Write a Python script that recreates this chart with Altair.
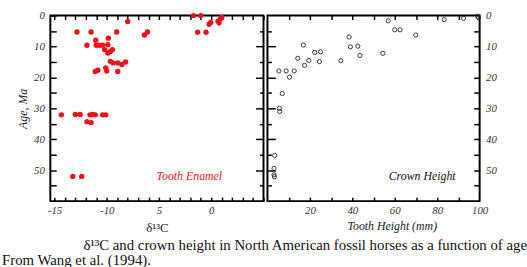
import altair as alt
import pandas as pd

# ---------------- data ----------------
enamel_d13c = [-1.7, -1.0, -1.3, -0.5, -0.2, -0.05, 0.65, 0.75, 0.9, 1.0,
               -6.4, -6.1, -8.0, -12.85, -11.5, -9.05,
               -11.9, -11.05, -11.0, -10.7, -10.4, -9.85, -9.9, -10.2, -9.9, -9.65,
               -9.45, -9.65, -9.4, -8.95, -8.55, -8.2, -11.1, -10.85, -10.1, -10.0, -8.95,
               -14.35, -13.0, -12.55, -11.9, -11.5, -11.6, -11.35, -11.1, -10.4, -10.1,
               -13.25, -12.4]
enamel_age = [0.0, 0.0, 5.4, 5.4, 2.8, 2.2, 1.8, 2.3, 0.9, 0.6,
              6.3, 5.3, 1.9, 5.3, 5.3, 5.3,
              9.6, 8.0, 9.6, 9.6, 9.6, 7.3, 9.4, 11.0, 12.1, 11.6,
              11.0, 14.8, 15.3, 15.3, 15.8, 15.0, 18.1, 17.7, 16.9, 17.9, 18.1,
              32.1, 32.0, 32.0, 34.3, 34.6, 32.1, 32.0, 32.1, 32.1, 32.1,
              52.0, 52.0]

crown_height = [5.4, 8.8, 12.6, 10.4, 7.0, 5.6, 5.8,
                14.3, 16.9, 17.5, 19.5, 22.3, 25.0, 24.5, 34.6, 38.5, 39.1, 42.6, 43.6,
                54.4, 56.9, 60.0, 62.5, 69.9, 83.3, 92.4, 99.1, 99.5,
                3.4, 3.1, 3.1, 3.3]
crown_age = [17.9, 17.9, 17.9, 19.9, 25.2, 30.0, 31.0,
             13.8, 9.5, 16.1, 14.5, 11.9, 11.7, 14.9, 14.6, 6.9, 10.1, 9.9, 12.9,
             12.2, 1.7, 4.6, 4.6, 6.3, 1.3, 0.9, 0.2, 0.7,
             45.2, 49.4, 51.5, 52.1]

d13c_ticks = [-15, -10, -5, 0]
height_ticks = [20, 40, 60, 80, 100]
age_ticks = [0, 10, 20, 30, 40, 50]
panel_labels = ["Tooth Enamel", "Crown Height"]
caption_lines = ["δ¹³C and crown height in North American fossil horses as a function of age",
                 "From Wang et al. (1994)."]

FONT = "Liberation Serif"
RED = "#e8141c"

enamel = pd.DataFrame({"d13c": enamel_d13c, "age": enamel_age})
crown = pd.DataFrame({"height": crown_height, "age": crown_age})
enamel_lab = pd.DataFrame({"d13c": [-2.1], "age": [51.8], "t": [panel_labels[0]]})
crown_lab = pd.DataFrame({"height": [72.9], "age": [51.8], "t": [panel_labels[1]]})

ys = alt.Scale(domain=[0, 60], reverse=True, nice=False, zero=False)
xs_l = alt.Scale(domain=[-15.4, 5], nice=False, zero=False)
xs_r = alt.Scale(domain=[0, 100], nice=False, zero=False)


def tick_axis(orient, values, size):
    return alt.Axis(orient=orient, values=values, labels=False, domain=False,
                    grid=False, ticks=True, tickSize=size, offset=-size,
                    title=None, tickColor="black", tickWidth=1.5)


lab_style = dict(labelFont=FONT, labelFontStyle="italic", labelFontSize=11,
                 labelColor="#333", grid=False, ticks=False, domain=False,
                 labelOverlap=False, labelBound=False, labelFlush=False)

# ---------------- left panel ----------------
L1 = alt.Chart(enamel).mark_circle(color=RED, size=30, opacity=1).encode(
    x=alt.X("d13c:Q", scale=xs_l,
            axis=alt.Axis(orient="bottom", values=d13c_ticks,
                          labelExpr="datum.value == -5 ? '5' : (datum.value < 0 ? '-' + abs(datum.value) : '' + datum.value)",
                          labelPadding=4, title="δ¹³C", titleFont=FONT,
                          titleFontSize=13, titleFontWeight="normal",
                          titlePadding=6, titleColor="#222", **lab_style)),
    y=alt.Y("age:Q", scale=ys,
            axis=alt.Axis(orient="left", values=age_ticks, labelPadding=6,
                          title="Age, Ma", titleFont=FONT, titleFontStyle="italic",
                          titleFontSize=12, titleFontWeight="normal",
                          titlePadding=4, titleColor="#222", **lab_style)),
)
L2 = alt.Chart(enamel).mark_point(opacity=0).encode(
    x=alt.X("d13c:Q", scale=xs_l, axis=tick_axis("bottom", list(range(-15, 6)), 4)),
    y=alt.Y("age:Q", scale=ys, axis=tick_axis("left", list(range(0, 60, 5)), 6)),
)
L3 = alt.Chart(enamel).mark_point(opacity=0).encode(
    x=alt.X("d13c:Q", scale=xs_l, axis=tick_axis("top", list(range(-15, 6)), 4)),
    y=alt.Y("age:Q", scale=ys, axis=tick_axis("right", [10, 20, 30, 40, 50], 8)),
)
L4 = alt.Chart(enamel).mark_point(opacity=0).encode(
    x=alt.X("d13c:Q", scale=xs_l, axis=None),
    y=alt.Y("age:Q", scale=ys, axis=tick_axis("right", [5, 15, 25, 35, 45, 55], 4)),
)
L5 = alt.Chart(enamel_lab).mark_text(font=FONT, fontStyle="italic", fontSize=12,
                                     color=RED).encode(
    x=alt.X("d13c:Q", scale=xs_l, axis=None),
    y=alt.Y("age:Q", scale=ys, axis=None),
    text="t:N",
)
left = alt.layer(L1, L2, L3, L4, L5).resolve_axis(
    x="independent", y="independent").properties(width=216, height=188)

# ---------------- right panel ----------------
R1 = alt.Chart(crown).mark_point(shape="circle", filled=False, size=18,
                                 color="#222", strokeWidth=0.9, opacity=1).encode(
    x=alt.X("height:Q", scale=xs_r,
            axis=alt.Axis(orient="bottom", values=height_ticks, labelPadding=4,
                          title="Tooth Height (mm)", titleFont=FONT,
                          titleFontStyle="italic", titleFontSize=12,
                          titleFontWeight="normal", titlePadding=5,
                          titleX=126, titleColor="#222", **lab_style)),
    y=alt.Y("age:Q", scale=ys,
            axis=alt.Axis(orient="right", values=age_ticks, labelPadding=6,
                          title=None, **lab_style)),
)
R2 = alt.Chart(crown).mark_point(opacity=0).encode(
    x=alt.X("height:Q", scale=xs_r, axis=tick_axis("bottom", list(range(10, 100, 10)), 4)),
    y=alt.Y("age:Q", scale=ys, axis=tick_axis("right", list(range(5, 60, 5)), 6)),
)
R3 = alt.Chart(crown).mark_point(opacity=0).encode(
    x=alt.X("height:Q", scale=xs_r, axis=tick_axis("top", list(range(10, 100, 10)), 4)),
    y=alt.Y("age:Q", scale=ys, axis=tick_axis("left", [10, 20, 30, 40, 50], 8)),
)
R4 = alt.Chart(crown).mark_point(opacity=0).encode(
    x=alt.X("height:Q", scale=xs_r, axis=None),
    y=alt.Y("age:Q", scale=ys, axis=tick_axis("left", [5, 15, 25, 35, 45, 55], 4)),
)
R5 = alt.Chart(crown_lab).mark_text(font=FONT, fontStyle="italic", fontSize=12,
                                    color="#111").encode(
    x=alt.X("height:Q", scale=xs_r, axis=None),
    y=alt.Y("age:Q", scale=ys, axis=None),
    text="t:N",
)
right = alt.layer(R1, R2, R3, R4, R5).resolve_axis(
    x="independent", y="independent").properties(width=215, height=188)

inner = alt.hconcat(left, right, spacing=0).properties(
    title=alt.TitleParams(caption_lines[0], orient="bottom", anchor="end",
                          font=FONT, fontSize=15, fontWeight="normal",
                          color="#111", offset=3, dx=30))

chart = alt.vconcat(inner, spacing=0).properties(
    title=alt.TitleParams(caption_lines[1], orient="bottom", anchor="start",
                          font=FONT, fontSize=15, fontWeight="normal",
                          color="#111", offset=0, dx=-14),
    padding={"left": 2, "top": 7, "right": 0, "bottom": 0},
).configure(background="white",
            view=alt.ViewConfig(stroke="black", strokeWidth=2))

chart.save("out.html", embed_options={"renderer": "svg", "actions": False})
